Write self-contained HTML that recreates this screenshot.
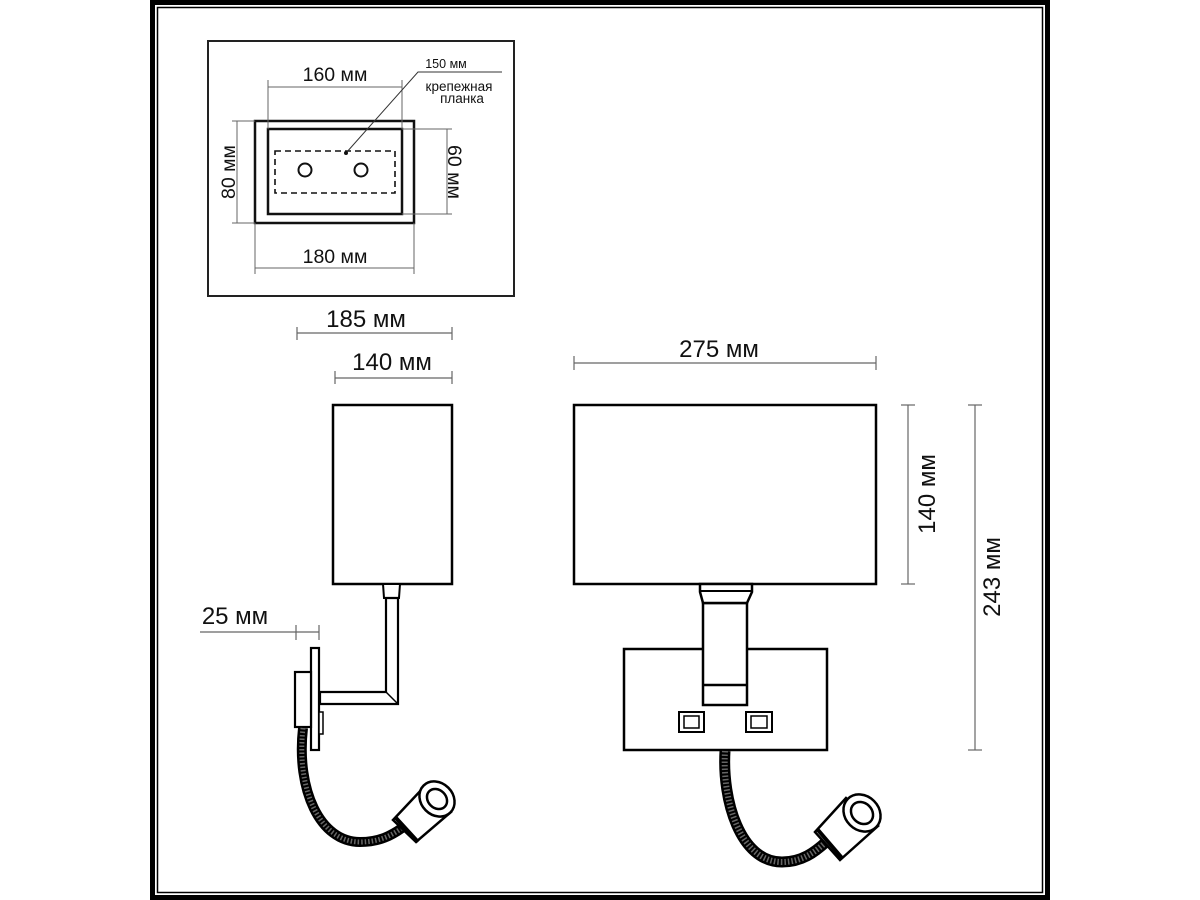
<!DOCTYPE html>
<html><head><meta charset="utf-8"><style>
html,body{margin:0;padding:0;background:#fff}
svg{display:block}
text{font-family:"Liberation Sans",sans-serif;fill:#111}
</style></head><body>
<svg width="1200" height="900" viewBox="0 0 1200 900" xmlns="http://www.w3.org/2000/svg">
<rect x="0" y="0" width="1200" height="900" fill="#fff"/>
<rect x="152.5" y="2.5" width="895" height="895" fill="none" stroke="#000" stroke-width="5"/>
<rect x="157.5" y="7.5" width="885" height="885" fill="none" stroke="#000" stroke-width="1.5"/>

<rect x="208" y="41" width="306" height="255" fill="none" stroke="#222" stroke-width="2"/>
<g fill="none" stroke="#111">
<rect x="255" y="121" width="159" height="102" stroke-width="2.5"/>
<rect x="268" y="129" width="134" height="85" stroke-width="2.5"/>
<rect x="275" y="151" width="120" height="42" stroke-width="1.6" stroke-dasharray="6,4"/>
<circle cx="305" cy="170" r="6.5" stroke-width="2"/>
<circle cx="361" cy="170" r="6.5" stroke-width="2"/>
</g>
<g stroke="#666" stroke-width="1" fill="none">
<line x1="268" y1="87" x2="402" y2="87"/><line x1="268" y1="80" x2="268" y2="129"/><line x1="402" y1="80" x2="402" y2="129"/>
<line x1="255" y1="268" x2="414" y2="268"/><line x1="255" y1="223" x2="255" y2="274"/><line x1="414" y1="223" x2="414" y2="274"/>
<line x1="237" y1="121" x2="237" y2="223"/><line x1="232" y1="121" x2="255" y2="121"/><line x1="232" y1="223" x2="255" y2="223"/>
<line x1="447" y1="129" x2="447" y2="214"/><line x1="402" y1="129" x2="452" y2="129"/><line x1="402" y1="214" x2="452" y2="214"/>
<polyline points="346,153 418,72 502,72" stroke="#333"/>
</g>
<circle cx="346" cy="153" r="2" fill="#111"/>
<text x="335" y="81" font-size="19.5" text-anchor="middle">160 мм</text>
<text x="335" y="263" font-size="19.5" text-anchor="middle">180 мм</text>
<text transform="translate(235,172) rotate(-90)" font-size="19.5" text-anchor="middle">80 мм</text>
<text transform="translate(448,172) rotate(90)" font-size="19.5" text-anchor="middle">60 мм</text>
<text x="446" y="68" font-size="12.5" text-anchor="middle">150 мм</text>
<text x="459" y="91" font-size="13.5" text-anchor="middle">крепежная</text>
<text x="462" y="103" font-size="13.5" text-anchor="middle">планка</text>

<g stroke="#666" stroke-width="1.2" fill="none">
<line x1="297" y1="333" x2="452" y2="333"/><line x1="297" y1="327" x2="297" y2="340"/><line x1="452" y1="327" x2="452" y2="340"/>
<line x1="335" y1="378" x2="452" y2="378"/><line x1="335" y1="371" x2="335" y2="384"/><line x1="452" y1="371" x2="452" y2="384"/>
<line x1="574" y1="363" x2="876" y2="363"/><line x1="574" y1="356" x2="574" y2="370"/><line x1="876" y1="356" x2="876" y2="370"/>
<line x1="200" y1="632" x2="319" y2="632"/><line x1="296" y1="625" x2="296" y2="640"/><line x1="319" y1="625" x2="319" y2="640"/>
<line x1="908" y1="405" x2="908" y2="584"/><line x1="901" y1="405" x2="915" y2="405"/><line x1="901" y1="584" x2="915" y2="584"/>
<line x1="975" y1="405" x2="975" y2="750"/><line x1="968" y1="405" x2="982" y2="405"/><line x1="968" y1="750" x2="982" y2="750"/>
</g>
<text x="366" y="327" font-size="24" text-anchor="middle">185 мм</text>
<text x="392" y="370" font-size="24" text-anchor="middle">140 мм</text>
<text x="719" y="357" font-size="24" text-anchor="middle">275 мм</text>
<text x="235" y="624" font-size="24" text-anchor="middle">25 мм</text>
<text transform="translate(935,494) rotate(-90)" font-size="24" text-anchor="middle">140 мм</text>
<text transform="translate(1000,577) rotate(-90)" font-size="24" text-anchor="middle">243 мм</text>

<g fill="#fff" stroke="#000" stroke-width="2.5">
<rect x="333" y="405" width="119" height="179"/>
<path d="M383 584 L400 584 L399 598 L384 598 Z" stroke-width="2"/>
<path d="M386 598 L398 598 L398 704 L320 704 L320 692 L386 692 Z" stroke-width="2.2"/>
<line x1="386" y1="692" x2="398" y2="704" stroke-width="1.5"/>
<rect x="311" y="648" width="8" height="102" stroke-width="2.2"/>
<rect x="295" y="672" width="16" height="55" stroke-width="2.2"/>
<rect x="319" y="712" width="4" height="22" stroke-width="1.5"/>
</g>
<path d="M303 728 C296 790 320 842 360 842 C380 842 392 835 402 828" fill="none" stroke="#000" stroke-width="10"/>
<path d="M303 728 C296 790 320 842 360 842 C380 842 392 835 402 828" fill="none" stroke="#666" stroke-width="5" stroke-dasharray="1.5,2"/>
<g stroke="#000" stroke-width="2.5" fill="#fff">
<path d="M393 820 L424 787 L451 812 L416 842 Z"/>
<ellipse cx="437" cy="799" rx="16" ry="19" transform="rotate(-45 437 799)"/>
<ellipse cx="437" cy="799" rx="9" ry="11" transform="rotate(-45 437 799)" stroke-width="2.5"/>
<path d="M396 818 L418 842" stroke-width="4"/>
</g>

<g fill="#fff" stroke="#000" stroke-width="2.5">
<rect x="574" y="405" width="302" height="179"/>
<rect x="624" y="649" width="203" height="101"/>
<rect x="703" y="603" width="44" height="102"/>
<line x1="703" y1="685" x2="747" y2="685"/>
<path d="M700 584 L752 584 L752 592 L747 603 L703 603 L700 592 Z"/>
<line x1="700" y1="591" x2="752" y2="591" stroke-width="2"/>
<rect x="679" y="712" width="25" height="20" stroke-width="2"/>
<rect x="684" y="716" width="15" height="12" stroke-width="1.5"/>
<rect x="746" y="712" width="26" height="20" stroke-width="2"/>
<rect x="751" y="716" width="16" height="12" stroke-width="1.5"/>
</g>
<path d="M725 751 C722 800 740 862 782 862 C802 862 815 852 826 842" fill="none" stroke="#000" stroke-width="11"/>
<path d="M725 751 C722 800 740 862 782 862 C802 862 815 852 826 842" fill="none" stroke="#666" stroke-width="6" stroke-dasharray="1.5,2"/>
<g stroke="#000" stroke-width="2.5" fill="#fff">
<path d="M815 832 L846 798 L878 826 L840 860 Z"/>
<ellipse cx="862" cy="813" rx="17" ry="20" transform="rotate(-45 862 813)"/>
<ellipse cx="862" cy="813" rx="10" ry="12" transform="rotate(-45 862 813)" stroke-width="2.5"/>
<path d="M818 830 L842 858" stroke-width="4"/>
</g>
</svg>
</body></html>
